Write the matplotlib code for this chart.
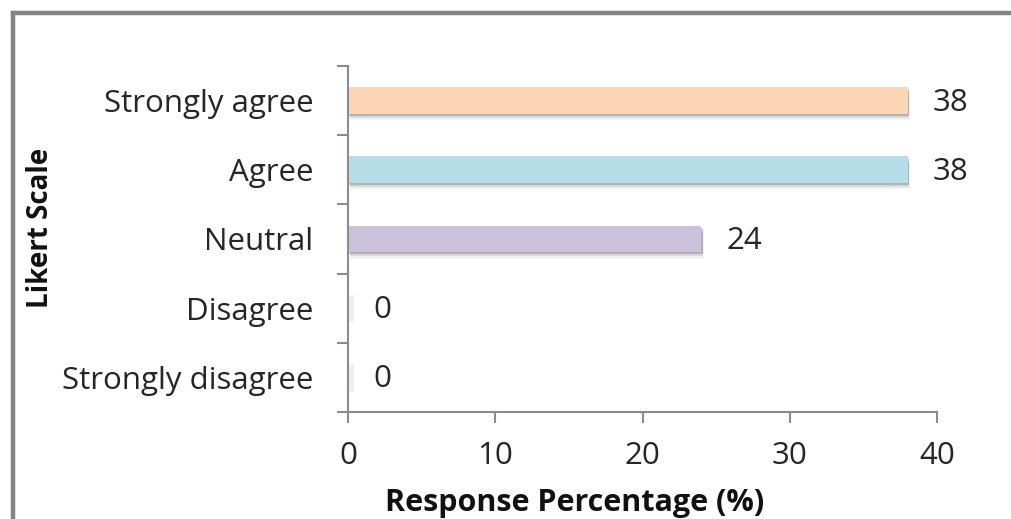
import matplotlib
matplotlib.use("Agg")
import matplotlib.pyplot as plt
import matplotlib.patheffects as pe
from matplotlib.lines import Line2D

categories = ["Strongly disagree", "Disagree", "Neutral", "Agree", "Strongly agree"]
percentages = [0, 0, 24, 38, 38]
bar_colors = ["#FCD5B5", "#FCD5B5", "#CCC1DA", "#B7DDE8", "#FCD5B5"]
x_ticks = [0, 10, 20, 30, 40]

FONT = "Open Sans"
AXIS_GRAY = "#8C8C8C"
TEXT = "#262626"
SIZE = 22.5


def main():
    plt.rcParams["font.family"] = [FONT, "DejaVu Sans"]

    fig = plt.figure(figsize=(10.11, 5.19), dpi=100)
    ax = fig.add_axes([348 / 1011, 107 / 519, 589 / 1011, 346 / 519])

    # soft drop shadow made from a few stacked offset copies
    shadow = [
        pe.SimplePatchShadow(offset=(0.8, -1.5), shadow_rgbFace="#000000", alpha=0.18),
        pe.SimplePatchShadow(offset=(1.2, -3), shadow_rgbFace="#000000", alpha=0.10),
        pe.SimplePatchShadow(offset=(1.6, -4.5), shadow_rgbFace="#000000", alpha=0.05),
        pe.Normal(),
    ]

    y = list(range(len(categories)))
    bars = ax.barh(y, percentages, height=0.385, color=bar_colors, edgecolor="none")
    for bar in bars:
        if bar.get_width() == 0:
            # empty categories only leave a faint smudge on the axis
            bar.set_width(0.4)
            bar.set_facecolor("#EFEFEF")
        else:
            bar.set_path_effects(shadow)

    for yi, val in zip(y, percentages):
        ax.annotate(str(val), xy=(val, yi), xytext=(18, -1.5), textcoords="offset points",
                    va="center", ha="left", fontsize=SIZE, color=TEXT)

    ax.set_xlim(0, 40)
    ax.set_ylim(-0.5, len(categories) - 0.5)
    ax.set_xticks(x_ticks)
    ax.set_yticks([i - 0.5 for i in range(len(categories) + 1)])
    ax.set_yticklabels([])
    ax.set_yticks(y, minor=True)
    ax.set_yticklabels(categories, minor=True)

    for side in ["top", "right"]:
        ax.spines[side].set_visible(False)
    for side in ["left", "bottom"]:
        ax.spines[side].set_color(AXIS_GRAY)
        ax.spines[side].set_linewidth(1.5)

    ax.tick_params(axis="x", which="major", direction="out", length=8, width=1.5,
                   color=AXIS_GRAY, labelsize=SIZE, labelcolor=TEXT, pad=13)
    ax.tick_params(axis="y", which="major", direction="out", length=8, width=1.5,
                   color=AXIS_GRAY)
    ax.tick_params(axis="y", which="minor", length=0, labelsize=SIZE,
                   labelcolor=TEXT, pad=25)

    fig.text(575 / 1011, 1 - 503 / 519, "Response Percentage (%)", ha="center", va="center",
             fontsize=22, fontweight="bold", color="#111111")
    fig.text(41 / 1011, 1 - 228 / 519, "Likert Scale", ha="center", va="center",
             rotation=90, fontsize=20, fontweight="bold", color="#111111")

    # chart frame, clipped on the right and bottom
    fig.add_artist(Line2D([12.5 / 1011, 12.5 / 1011], [0, 1 - 12.5 / 519],
                          color="#858585", linewidth=3.2, solid_capstyle="projecting"))
    fig.add_artist(Line2D([12.5 / 1011, 1], [1 - 12.5 / 519, 1 - 12.5 / 519],
                          color="#858585", linewidth=3.2, solid_capstyle="projecting"))

    fig.savefig("out.png", dpi=100)
    plt.close(fig)


if __name__ == "__main__":
    main()
